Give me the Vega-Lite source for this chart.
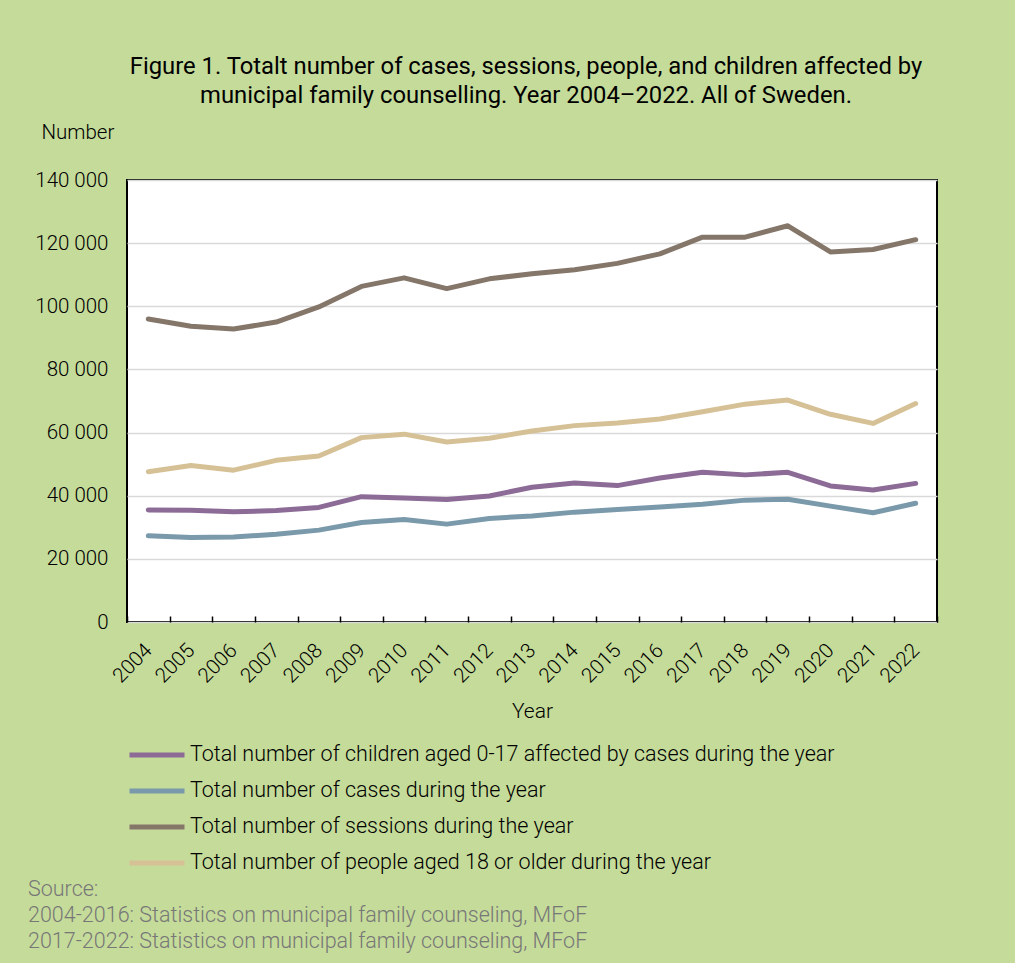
{
  "$schema": "https://vega.github.io/schema/vega-lite/v6.json",
  "width": 810,
  "height": 442,
  "autosize": {"type": "none"},
  "padding": {"left": 127, "top": 180, "right": 78, "bottom": 341},
  "background": "#c5db9a",
  "config": {
    "font": "Roboto",
    "view": {"stroke": "#000000", "strokeWidth": 2, "fill": "#ffffff"}
  },
  "title": {
    "text": ["Figure 1. Totalt number of cases, sessions, people, and children affected by", "municipal family counselling. Year 2004–2022. All of Sweden."],
    "font": "Roboto",
    "fontSize": 23.8,
    "fontWeight": "normal",
    "color": "#000000",
    "anchor": "middle",
    "dx": -6,
    "offset": 14,
    "lineHeight": 29
  },
  "datasets": {
    "series": [
      {"year": "2004", "series": "Total number of children aged 0-17 affected by cases during the year", "value": 35500},
      {"year": "2005", "series": "Total number of children aged 0-17 affected by cases during the year", "value": 35400},
      {"year": "2006", "series": "Total number of children aged 0-17 affected by cases during the year", "value": 34900},
      {"year": "2007", "series": "Total number of children aged 0-17 affected by cases during the year", "value": 35300},
      {"year": "2008", "series": "Total number of children aged 0-17 affected by cases during the year", "value": 36300},
      {"year": "2009", "series": "Total number of children aged 0-17 affected by cases during the year", "value": 39700},
      {"year": "2010", "series": "Total number of children aged 0-17 affected by cases during the year", "value": 39300},
      {"year": "2011", "series": "Total number of children aged 0-17 affected by cases during the year", "value": 38800},
      {"year": "2012", "series": "Total number of children aged 0-17 affected by cases during the year", "value": 39900},
      {"year": "2013", "series": "Total number of children aged 0-17 affected by cases during the year", "value": 42700},
      {"year": "2014", "series": "Total number of children aged 0-17 affected by cases during the year", "value": 44000},
      {"year": "2015", "series": "Total number of children aged 0-17 affected by cases during the year", "value": 43200},
      {"year": "2016", "series": "Total number of children aged 0-17 affected by cases during the year", "value": 45600},
      {"year": "2017", "series": "Total number of children aged 0-17 affected by cases during the year", "value": 47400},
      {"year": "2018", "series": "Total number of children aged 0-17 affected by cases during the year", "value": 46600},
      {"year": "2019", "series": "Total number of children aged 0-17 affected by cases during the year", "value": 47400},
      {"year": "2020", "series": "Total number of children aged 0-17 affected by cases during the year", "value": 43100},
      {"year": "2021", "series": "Total number of children aged 0-17 affected by cases during the year", "value": 41800},
      {"year": "2022", "series": "Total number of children aged 0-17 affected by cases during the year", "value": 43900},
      {"year": "2004", "series": "Total number of cases during the year", "value": 27300},
      {"year": "2005", "series": "Total number of cases during the year", "value": 26800},
      {"year": "2006", "series": "Total number of cases during the year", "value": 26900},
      {"year": "2007", "series": "Total number of cases during the year", "value": 27800},
      {"year": "2008", "series": "Total number of cases during the year", "value": 29100},
      {"year": "2009", "series": "Total number of cases during the year", "value": 31500},
      {"year": "2010", "series": "Total number of cases during the year", "value": 32500},
      {"year": "2011", "series": "Total number of cases during the year", "value": 31000},
      {"year": "2012", "series": "Total number of cases during the year", "value": 32800},
      {"year": "2013", "series": "Total number of cases during the year", "value": 33600},
      {"year": "2014", "series": "Total number of cases during the year", "value": 34800},
      {"year": "2015", "series": "Total number of cases during the year", "value": 35600},
      {"year": "2016", "series": "Total number of cases during the year", "value": 36400},
      {"year": "2017", "series": "Total number of cases during the year", "value": 37300},
      {"year": "2018", "series": "Total number of cases during the year", "value": 38600},
      {"year": "2019", "series": "Total number of cases during the year", "value": 38900},
      {"year": "2020", "series": "Total number of cases during the year", "value": 36700},
      {"year": "2021", "series": "Total number of cases during the year", "value": 34600},
      {"year": "2022", "series": "Total number of cases during the year", "value": 37600},
      {"year": "2004", "series": "Total number of sessions during the year", "value": 96000},
      {"year": "2005", "series": "Total number of sessions during the year", "value": 93700},
      {"year": "2006", "series": "Total number of sessions during the year", "value": 92800},
      {"year": "2007", "series": "Total number of sessions during the year", "value": 95000},
      {"year": "2008", "series": "Total number of sessions during the year", "value": 99800},
      {"year": "2009", "series": "Total number of sessions during the year", "value": 106300},
      {"year": "2010", "series": "Total number of sessions during the year", "value": 109000},
      {"year": "2011", "series": "Total number of sessions during the year", "value": 105600},
      {"year": "2012", "series": "Total number of sessions during the year", "value": 108700},
      {"year": "2013", "series": "Total number of sessions during the year", "value": 110300},
      {"year": "2014", "series": "Total number of sessions during the year", "value": 111600},
      {"year": "2015", "series": "Total number of sessions during the year", "value": 113600},
      {"year": "2016", "series": "Total number of sessions during the year", "value": 116600},
      {"year": "2017", "series": "Total number of sessions during the year", "value": 121900},
      {"year": "2018", "series": "Total number of sessions during the year", "value": 121900},
      {"year": "2019", "series": "Total number of sessions during the year", "value": 125500},
      {"year": "2020", "series": "Total number of sessions during the year", "value": 117200},
      {"year": "2021", "series": "Total number of sessions during the year", "value": 118000},
      {"year": "2022", "series": "Total number of sessions during the year", "value": 121100},
      {"year": "2004", "series": "Total number of people aged 18 or older during the year", "value": 47600},
      {"year": "2005", "series": "Total number of people aged 18 or older during the year", "value": 49600},
      {"year": "2006", "series": "Total number of people aged 18 or older during the year", "value": 48100},
      {"year": "2007", "series": "Total number of people aged 18 or older during the year", "value": 51200},
      {"year": "2008", "series": "Total number of people aged 18 or older during the year", "value": 52600},
      {"year": "2009", "series": "Total number of people aged 18 or older during the year", "value": 58400},
      {"year": "2010", "series": "Total number of people aged 18 or older during the year", "value": 59500},
      {"year": "2011", "series": "Total number of people aged 18 or older during the year", "value": 57000},
      {"year": "2012", "series": "Total number of people aged 18 or older during the year", "value": 58200},
      {"year": "2013", "series": "Total number of people aged 18 or older during the year", "value": 60500},
      {"year": "2014", "series": "Total number of people aged 18 or older during the year", "value": 62200},
      {"year": "2015", "series": "Total number of people aged 18 or older during the year", "value": 63000},
      {"year": "2016", "series": "Total number of people aged 18 or older during the year", "value": 64300},
      {"year": "2017", "series": "Total number of people aged 18 or older during the year", "value": 66600},
      {"year": "2018", "series": "Total number of people aged 18 or older during the year", "value": 69000},
      {"year": "2019", "series": "Total number of people aged 18 or older during the year", "value": 70300},
      {"year": "2020", "series": "Total number of people aged 18 or older during the year", "value": 65800},
      {"year": "2021", "series": "Total number of people aged 18 or older during the year", "value": 62900},
      {"year": "2022", "series": "Total number of people aged 18 or older during the year", "value": 69200}
    ],
    "source": [
      {"line": "Source:", "row": 0},
      {"line": "2004-2016: Statistics on municipal family counseling, MFoF", "row": 1},
      {"line": "2017-2022: Statistics on municipal family counseling, MFoF", "row": 2}
    ]
  },
  "layer": [
    {
      "data": {"name": "series"},
      "mark": {"type": "line", "strokeWidth": 5, "strokeCap": "round", "strokeJoin": "round"},
      "encoding": {
        "x": {
          "field": "year",
          "type": "ordinal",
          "bandPosition": 0.5,
          "scale": {"type": "band", "paddingInner": 0, "paddingOuter": 0},
          "axis": {
            "title": "Year",
            "titleFont": "Roboto",
            "titleFontSize": 21,
            "titleFontWeight": 300,
            "titleColor": "#000000",
            "titlePadding": 14,
            "tickBand": "extent",
            "tickSize": -6,
            "tickColor": "#000000",
            "tickWidth": 1.5,
            "domain": false,
            "grid": false,
            "labelAngle": -45,
            "labelAlign": "right",
            "labelBaseline": "middle",
            "labelPadding": 31,
            "labelFont": "Roboto",
            "labelFontSize": 20.5,
            "labelFontWeight": 300,
            "labelColor": "#000000"
          }
        },
        "y": {
          "field": "value",
          "type": "quantitative",
          "scale": {"domain": [0, 140000], "nice": false},
          "axis": {
            "values": [0, 20000, 40000, 60000, 80000, 100000, 120000, 140000],
            "labelExpr": "replace(format(datum.value, ',d'), ',', ' ')",
            "title": "Number",
            "titleAngle": 0,
            "titleAlign": "left",
            "titleBaseline": "alphabetic",
            "titleX": -86,
            "titleY": -42,
            "titleFont": "Roboto",
            "titleFontSize": 20.5,
            "titleFontWeight": 300,
            "titleColor": "#000000",
            "ticks": false,
            "domain": false,
            "grid": true,
            "gridColor": "#d9d9d9",
            "gridWidth": 1.5,
            "labelPadding": 19,
            "labelFont": "Roboto",
            "labelFontSize": 20.5,
            "labelFontWeight": 300,
            "labelColor": "#000000"
          }
        },
        "color": {
          "field": "series",
          "type": "nominal",
          "scale": {
            "domain": [
              "Total number of children aged 0-17 affected by cases during the year",
              "Total number of cases during the year",
              "Total number of sessions during the year",
              "Total number of people aged 18 or older during the year"
            ],
            "range": ["#8c6b97", "#7a9aab", "#85766a", "#d6c196"]
          },
          "legend": {
            "orient": "none",
            "legendX": 0,
            "legendY": 557,
            "direction": "vertical",
            "title": null,
            "symbolType": "stroke",
            "symbolSize": 3025,
            "symbolStrokeWidth": 5,
            "clipHeight": 36,
            "labelFont": "Roboto",
            "labelFontSize": 21.5,
            "labelFontWeight": 300,
            "labelColor": "#000000",
            "labelOffset": 3,
            "labelLimit": 900,
            "rowPadding": 0
          }
        }
      }
    },
    {
      "data": {"name": "source"},
      "mark": {"type": "text", "align": "left", "baseline": "middle", "font": "Roboto", "fontSize": 21.5, "fontWeight": 300, "color": "#777777"},
      "encoding": {
        "text": {"field": "line"},
        "x": {"value": -99},
        "y": {"field": "row", "type": "quantitative", "scale": {"domain": [0, 2], "range": [710, 762]}, "axis": null}
      }
    }
  ],
  "resolve": {"scale": {"y": "independent"}}
}
